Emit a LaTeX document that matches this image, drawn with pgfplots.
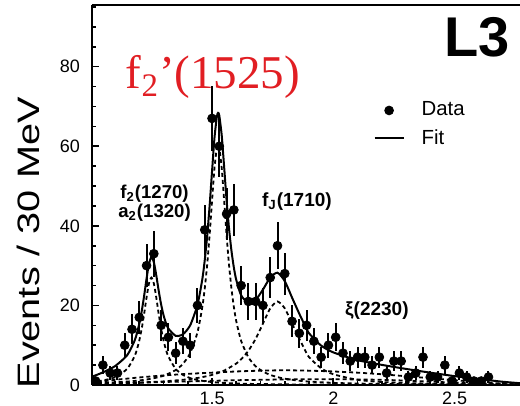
\documentclass[border=0pt]{standalone}
\usepackage{fontspec}
\setmainfont{Liberation Sans}
\newfontfamily\timesfont{Liberation Serif}
\usepackage{graphicx}
\usepackage{pgfplots}
\pgfplotsset{compat=1.18}
\definecolor{lblred}{RGB}{225,30,35}
\pgfplotsset{fitleg/.style={legend image code/.code={\draw[##1] (0pt,0pt) -- (14.5pt,0pt);}},
  dataleg/.style={legend image code/.code={\draw[mark repeat=2,mark phase=2,##1] plot coordinates {(0pt,0pt) (7.25pt,0pt) (14.5pt,0pt)};}},
  comp/.style={black, line width=0.9pt, dash pattern=on 2pt off 1.5pt, smooth, tension=0.4, forget plot}}

\begin{document}
\begin{tikzpicture}
\path[use as bounding box] (-46pt,-10.5pt) rectangle (214pt,192.5pt);
\begin{axis}[
  at={(0,0)}, anchor=south west, scale only axis,
  width=214pt, height=190pt,
  xmin=1.005, xmax=2.77, ymin=0, ymax=95.5,
  axis x line*=bottom, axis y line*=left,
  axis line style={line width=1pt},
  xtick={1.5,2,2.5}, xticklabels={1.5,2,2.5},
  minor xtick={1.1,1.2,1.3,1.4,1.6,1.7,1.8,1.9,2.1,2.2,2.3,2.4,2.6,2.7},
  ytick={0,20,40,60,80},
  minor ytick={5,10,15,25,30,35,45,50,55,65,70,75,85,90,95},
  tick align=inside, major tick length=3.5pt, minor tick length=2pt,
  tick style={line width=0.8pt, black},
  ticklabel style={font=\fontsize{9}{10}\selectfont},
  yticklabel style={xshift=-2.5pt},
  /pgf/number format/assume math mode=true,
  clip mode=individual,
  legend style={draw=none, fill=none, at={(rel axis cs:0.643,0.767)}, anchor=north west,
    font=\fontsize{10.2}{11.5}\selectfont, row sep=1.3pt,
    /tikz/every odd column/.append style={column sep=6.5pt}},
  legend cell align=left,
]
% data
\addplot[only marks, mark=*, mark size=2.2pt, black, dataleg,
  error bars/.cd, y dir=both, y explicit, error mark=none,
  error bar style={line width=1pt, black}]
  coordinates {
  (1.02,1) +- (0,1)
  (1.05,5) +- (0,2.24)
  (1.08,3) +- (0,1.73)
  (1.11,3) +- (0,1.73)
  (1.14,10) +- (0,3.16)
  (1.17,14) +- (0,3.74)
  (1.20,17) +- (0,4.12)
  (1.23,30) +- (0,5.48)
  (1.26,33) +- (0,5.74)
  (1.29,15) +- (0,3.87)
  (1.32,12) +- (0,3.46)
  (1.35,8) +- (0,2.83)
  (1.38,11) +- (0,3.32)
  (1.41,10) +- (0,3.16)
  (1.44,20) +- (0,4.47)
  (1.47,39) +- (0,6.24)
  (1.50,67) +- (0,8.19)
  (1.53,60) +- (0,7.75)
  (1.56,43) +- (0,6.56)
  (1.59,44) +- (0,6.63)
  (1.62,25) +- (0,5.0)
  (1.65,21) +- (0,4.58)
  (1.68,21) +- (0,4.58)
  (1.71,20) +- (0,4.47)
  (1.74,27) +- (0,5.2)
  (1.77,35) +- (0,5.92)
  (1.80,28) +- (0,5.29)
  (1.83,16) +- (0,4.0)
  (1.86,13) +- (0,3.61)
  (1.89,15) +- (0,3.87)
  (1.92,11) +- (0,3.32)
  (1.95,7) +- (0,2.65)
  (1.98,10) +- (0,3.16)
  (2.01,12) +- (0,3.46)
  (2.04,8) +- (0,2.83)
  (2.07,6) +- (0,2.45)
  (2.10,7) +- (0,2.65)
  (2.13,7) +- (0,2.65)
  (2.16,5) +- (0,2.24)
  (2.19,7) +- (0,2.65)
  (2.22,3) +- (0,1.73)
  (2.25,6) +- (0,2.45)
  (2.28,6) +- (0,2.45)
  (2.31,2) +- (0,1.41)
  (2.34,3) +- (0,1.73)
  (2.37,7) +- (0,2.65)
  (2.40,2) +- (0,1.41)
  (2.43,2) +- (0,1.41)
  (2.46,5) +- (0,2.24)
  (2.49,1) +- (0,1)
  (2.52,3) +- (0,1.73)
  (2.55,2) +- (0,1.41)
  (2.58,1) +- (0,1)
  (2.61,1) +- (0,1)
  (2.64,2) +- (0,1.41)
  };
\addlegendentry{Data}
% total fit
\addplot[black, line width=1pt, smooth, tension=0.4, fitleg]
  coordinates {
  (1.00,1.93) (1.01,2.19) (1.05,3.18) (1.10,4.74) (1.15,7.48) (1.18,11.04)
  (1.19,12.95) (1.20,15.39) (1.21,18.54) (1.22,22.42) (1.23,26.74) (1.24,30.46)
  (1.25,32.13) (1.26,30.89) (1.27,27.58) (1.28,23.7) (1.29,20.25) (1.30,17.55)
  (1.31,15.57) (1.32,14.17) (1.35,12.36) (1.38,12.74) (1.41,15.01) (1.44,20.16)
  (1.46,26.61) (1.47,31.4) (1.48,37.44) (1.49,45.0) (1.50,53.68) (1.51,62.05)
  (1.52,67.49) (1.525,68.39) (1.53,67.72) (1.54,62.68) (1.55,54.75) (1.56,46.46)
  (1.57,39.37) (1.58,33.79) (1.59,29.52) (1.60,26.39) (1.62,22.55) (1.65,20.59)
  (1.68,21.4) (1.71,23.98) (1.74,27.01) (1.77,28.22) (1.80,26.1) (1.83,21.96)
  (1.86,17.88) (1.88,15.35) (1.90,13.0) (1.95,9.9) (2.00,8.2) (2.10,6.24)
  (2.20,5.06) (2.30,4.04) (2.40,3.1) (2.50,2.23) (2.60,1.49) (2.70,0.81) (2.77,0.45)
  };
\addlegendentry{Fit}
% f2(1270)/a2(1320) component
\addplot[comp]
  coordinates {
  (1.00,0.74) (1.01,0.80) (1.05,1.14) (1.10,1.96) (1.15,4.04) (1.18,7.14) (1.19,8.88)
  (1.20,11.17) (1.21,14.15) (1.22,17.87) (1.23,22.0) (1.24,25.54) (1.25,27.0)
  (1.26,25.54) (1.27,22.0) (1.28,17.87) (1.29,14.15) (1.30,11.17) (1.31,8.88)
  (1.32,7.14) (1.35,4.04) (1.38,2.55) (1.41,1.74) (1.44,1.26) (1.48,0.87)
  (1.52,0.63) (1.56,0.48) (1.60,0.38) (1.65,0.29) (1.70,0.24) (1.80,0.16)
  (1.90,0.11) (2.00,0.09) (2.20,0.05) (2.40,0.04) (2.60,0.03) (2.77,0.02)
  };
% f2'(1525) component
\addplot[comp]
  coordinates {
  (1.00,0.44) (1.01,0.46) (1.05,0.54) (1.10,0.67) (1.15,0.86) (1.20,1.14) (1.25,1.58)
  (1.30,2.32) (1.35,3.76) (1.38,5.31) (1.41,8.03) (1.44,13.24) (1.46,19.61)
  (1.47,24.3) (1.48,30.26) (1.49,37.7) (1.50,46.26) (1.51,54.46) (1.52,59.73)
  (1.525,60.5) (1.53,59.73) (1.54,54.46) (1.55,46.26) (1.56,37.67) (1.57,30.26)
  (1.58,24.30) (1.59,19.61) (1.60,16.01) (1.62,11.09) (1.65,6.94) (1.68,4.70)
  (1.71,3.38) (1.74,2.54) (1.77,1.98) (1.80,1.58) (1.86,1.07) (1.90,0.86)
  (2.00,0.54) (2.10,0.37) (2.20,0.26) (2.40,0.16) (2.60,0.11) (2.77,0.08)
  };
% fJ(1710) component
\addplot[comp]
  coordinates {
  (1.00,0.35) (1.10,0.46) (1.20,0.63) (1.30,0.91) (1.40,1.43) (1.45,1.87) (1.50,2.53)
  (1.55,3.62) (1.60,5.40) (1.62,6.46) (1.65,8.61) (1.68,11.60) (1.71,15.44)
  (1.74,19.26) (1.77,21.0) (1.80,19.26) (1.83,15.44) (1.86,11.60) (1.88,9.2)
  (1.90,7.0) (1.95,4.2) (2.00,2.7) (2.10,1.3) (2.20,0.75) (2.30,0.5) (2.40,0.35)
  (2.50,0.27) (2.60,0.2) (2.70,0.15) (2.77,0.12)
  };
% background A
\addplot[comp]
  coordinates {
  (1.00,0.3) (1.01,0.45) (1.05,0.9) (1.10,1.3) (1.15,1.6) (1.20,1.9) (1.30,2.4)
  (1.40,2.8) (1.50,3.1) (1.60,3.4) (1.70,3.6) (1.80,3.7) (1.90,3.6) (2.00,3.4)
  (2.10,3.1) (2.20,2.7) (2.30,2.2) (2.40,1.7) (2.50,1.2) (2.60,0.75) (2.70,0.35) (2.77,0.15)
  };
% background B / xi(2230)
\addplot[comp]
  coordinates {
  (1.00,0.1) (1.05,0.2) (1.10,0.35) (1.20,0.55) (1.30,0.75) (1.40,0.9) (1.50,1.05)
  (1.60,1.2) (1.70,1.3) (1.80,1.4) (1.90,1.45) (2.00,1.45) (2.10,1.4) (2.20,1.3)
  (2.30,1.1) (2.40,0.85) (2.50,0.6) (2.60,0.4) (2.70,0.2) (2.77,0.1)
  };
% top frame line
\draw[line width=1pt] (rel axis cs:0,1) -- (rel axis cs:1,1);
% labels
\node[rotate=90, font=\fontsize{15.5}{18}\selectfont, inner sep=0pt] at ([xshift=-32pt]rel axis cs:0,0.374)
  {\scalebox{1.28}[1]{Events / 30 MeV}};
\node[font=\fontsize{23.5}{26}\selectfont, text=lblred, inner sep=0pt] at (axis cs:1.504,77.3)
  {\timesfont f\textsubscript{2}’(1525)};
\node[font=\fontsize{28}{30}\selectfont\bfseries, inner sep=0pt] at (axis cs:2.593,87.5) {L3};
\node[font=\fontsize{9.3}{9.5}\selectfont\bfseries, align=center, inner sep=0pt] at (axis cs:1.263,45.6)
  {f\textsubscript{2}(1270)\\a\textsubscript{2}(1320)};
\node[font=\fontsize{9.5}{10}\selectfont\bfseries, inner sep=0pt] at (axis cs:1.85,46) {f\textsubscript{J}(1710)};
\node[font=\fontsize{9.5}{10}\selectfont\bfseries, inner sep=0pt] at (axis cs:2.18,18.8) {ξ(2230)};
\end{axis}
\end{tikzpicture}
\end{document}
